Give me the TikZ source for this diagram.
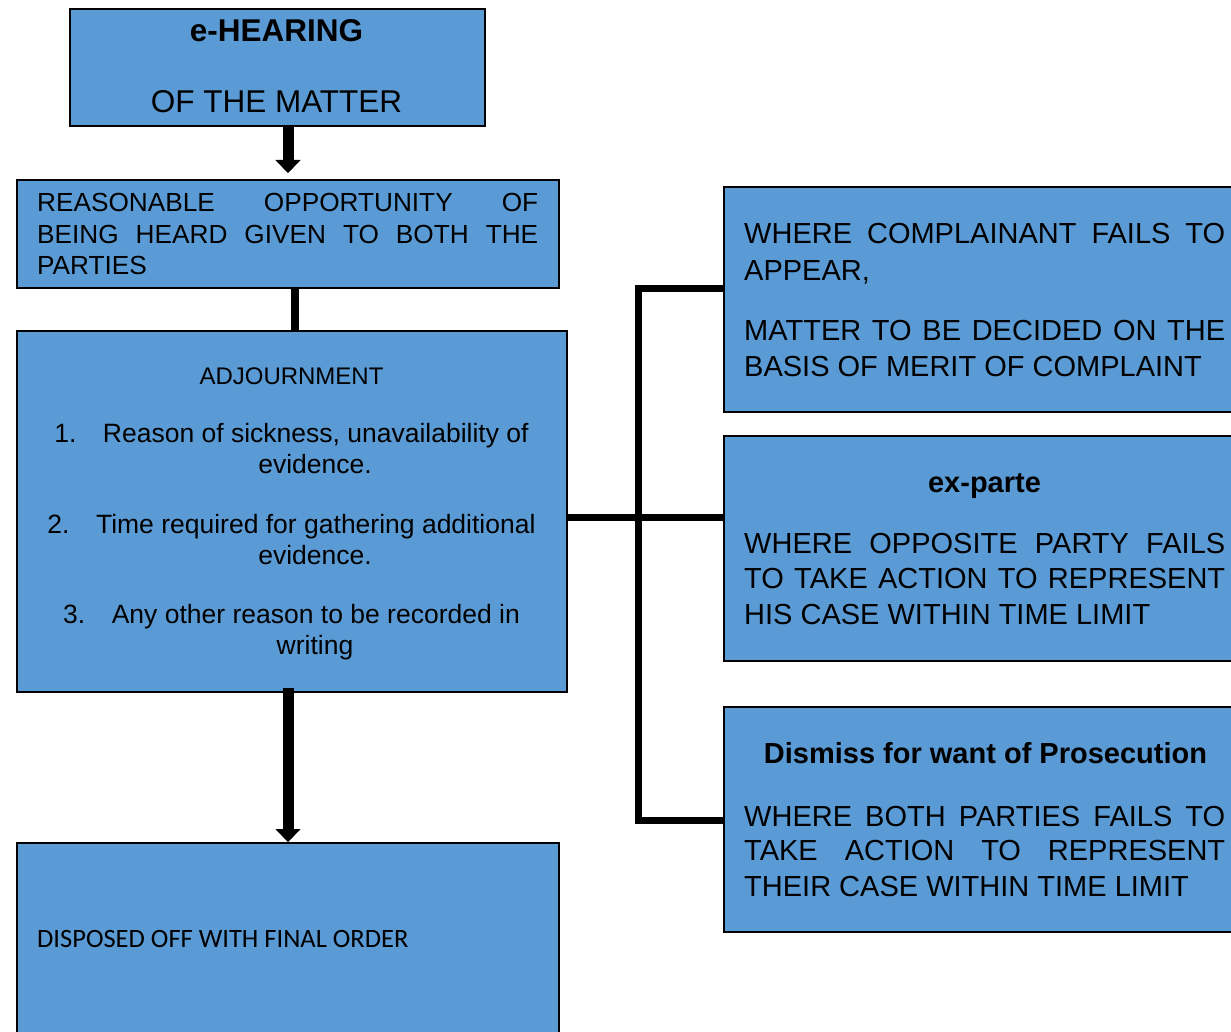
\documentclass[tikz,border=0pt]{standalone}
\usepackage{fontspec}
\setmainfont{Liberation Sans}
\newfontfamily\calibrifont{Carlito}
\usetikzlibrary{arrows.meta,calc}
\definecolor{boxblue}{RGB}{91,155,213}
\newcommand\fsz[2]{\fontsize{#1pt}{#2pt}\selectfont}
\begin{document}
\begin{tikzpicture}[x=1pt,y=-1pt,
  box/.style={draw=black, line width=2pt, fill=boxblue, rectangle, inner sep=0pt, anchor=north west},
  txt/.style={inner sep=0pt, anchor=base west},
  ctxt/.style={inner sep=0pt, anchor=base},
  bigarrow/.style={draw=black, line width=11pt, -{Triangle[width=25pt,length=13pt,line width=0.1pt]}},
  conn/.style={draw=black, line width=7pt, line join=miter}]
\useasboundingbox (0,0) rectangle (1231,1032);
\clip (0,0) rectangle (1231,1032);
\fill[white] (0,0) rectangle (1231,1032);

% boxes
\node[box, minimum width=415pt, minimum height=117pt] (hear) at (69,8) {};
\node[box, minimum width=542pt, minimum height=108pt] (reas) at (16,179) {};
\node[box, minimum width=550pt, minimum height=361pt] (adj) at (16,330) {};
\node[box, minimum width=542pt, minimum height=260pt] (disp) at (16,842) {};
\node[box, minimum width=540pt, minimum height=225pt] (r1) at (723,186) {};
\node[box, minimum width=540pt, minimum height=225pt] (r2) at (723,435) {};
\node[box, minimum width=540pt, minimum height=225pt] (r3) at (723,706) {};

% e-hearing
\node[ctxt, font=\fsz{31.5}{36}\bfseries] (h1) at (276.5,42) {e-HEARING};
\node[ctxt, font=\fsz{31.5}{36}] (h2) at (276.5,113) {OF THE MATTER};

% reasonable opportunity
\node[txt, font=\fsz{26.2}{31.5}] (ro1) at (37,212) {\hbox to 501pt{REASONABLE\hfill OPPORTUNITY\hfill OF}};
\node[txt, font=\fsz{26.2}{31.5}] (ro2) at (37,243.5) {\hbox to 501pt{BEING\hfill HEARD\hfill GIVEN\hfill TO\hfill BOTH\hfill THE}};
\node[txt, font=\fsz{26.2}{31.5}] (ro3) at (37,275) {PARTIES};

% adjournment
\node[ctxt, font=\fsz{24}{30}] (a0) at (291.5,384) {ADJOURNMENT};
\node[ctxt, font=\fsz{26.5}{31}] (a1) at (291.5,442) {1.\hspace{26.5pt}Reason of sickness, unavailability of};
\node[ctxt, font=\fsz{26.5}{31}] (a1b) at (315,473) {evidence.};
\node[ctxt, font=\fsz{26.5}{31}] (a2) at (291.5,533) {2.\hspace{26.5pt}Time required for gathering additional};
\node[ctxt, font=\fsz{26.5}{31}] (a2b) at (315,564) {evidence.};
\node[ctxt, font=\fsz{26.5}{31}] (a3) at (291.5,623) {3.\hspace{26.5pt}Any other reason to be recorded in};
\node[ctxt, font=\fsz{26.5}{31}] (a3b) at (315,654) {writing};

% disposed
\node[txt, font=\calibrifont\fsz{26.5}{32}] (d1) at (37,947) {DISPOSED OFF WITH FINAL ORDER};

% right box 1
\node[txt, font=\fsz{29}{35}] (p1) at (744,244) {\hbox to 481pt{WHERE\hfill COMPLAINANT\hfill FAILS\hfill TO}};
\node[txt, font=\fsz{29}{35}] (p2) at (744,280) {APPEAR,};
\node[txt, font=\fsz{29}{35}] (p3) at (744,340) {\hbox to 481pt{MATTER\hfill TO\hfill BE\hfill DECIDED\hfill ON\hfill THE}};
\node[txt, font=\fsz{29}{35}] (p4) at (744,376) {BASIS OF MERIT OF COMPLAINT};

% right box 2
\node[ctxt, font=\fsz{29}{35}\bfseries] (q0) at (984.5,492) {ex-parte};
\node[txt, font=\fsz{29}{35}] (q1) at (744,553) {\hbox to 481pt{WHERE\hfill OPPOSITE\hfill PARTY\hfill FAILS}};
\node[txt, font=\fsz{29}{35}] (q2) at (744,588) {\hbox to 481pt{TO\hfill TAKE\hfill ACTION\hfill TO\hfill REPRESENT}};
\node[txt, font=\fsz{29}{35}] (q3) at (744,624) {HIS CASE WITHIN TIME LIMIT};

% right box 3
\node[ctxt, font=\fsz{29}{35}\bfseries] (s0) at (985.5,763) {Dismiss for want of Prosecution};
\node[txt, font=\fsz{29}{35}] (s1) at (744,826) {\hbox to 481pt{WHERE\hfill BOTH\hfill PARTIES\hfill FAILS\hfill TO}};
\node[txt, font=\fsz{29}{35}] (s2) at (744,860) {\hbox to 481pt{TAKE\hfill ACTION\hfill TO\hfill REPRESENT}};
\node[txt, font=\fsz{29}{35}] (s3) at (744,896) {THEIR CASE WITHIN TIME LIMIT};

% connectors
\draw[bigarrow, shorten >=6pt] (hear.south -| reas.north) -- (reas.north);
\draw[draw=black, line width=8pt] ([xshift=7pt]reas.south) -- ([xshift=7pt]reas.south |- adj.north);
\draw[bigarrow] ([yshift=5pt]adj.south -| disp.north) -- (disp.north);

\coordinate (jt) at (638,289);
\coordinate (jm) at (638,517);
\coordinate (jb) at (638,820);
\draw[conn] (r1.west |- jt) -- (jt) -- (jb) -- (r3.west |- jb);
\draw[conn] (adj.east |- jm) -- (r2.west |- jm);
\end{tikzpicture}
\end{document}
